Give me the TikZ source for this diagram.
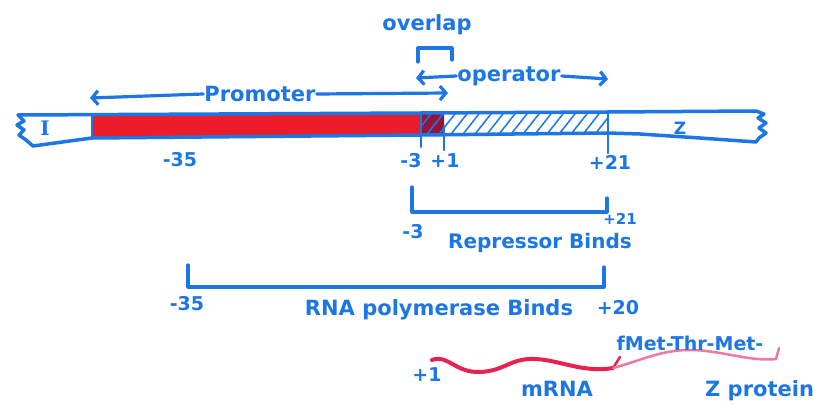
\documentclass[tikz,border=0pt]{standalone}
\usepackage{fontspec}
\setmainfont{DejaVu Sans}
\newfontfamily\genefont{DejaVu Serif}
\usetikzlibrary{arrows.meta}
\definecolor{ink}{RGB}{28,118,228}
\definecolor{marker}{RGB}{236,28,40}
\definecolor{overlapred}{RGB}{150,20,60}
\definecolor{mrnared}{RGB}{232,34,78}
\definecolor{protpink}{RGB}{242,120,160}
\begin{document}
\begin{tikzpicture}[x=1pt,y=-1pt,line cap=round,line join=round,
  lbl/.style={text=ink,font=\bfseries\fontsize{21}{24}\selectfont,inner sep=1pt},
  numlbl/.style={text=ink,font=\bfseries\fontsize{19}{22}\selectfont,inner sep=1pt},
  smalllbl/.style={text=ink,font=\bfseries\fontsize{15}{18}\selectfont,inner sep=1pt},
  pen/.style={draw=ink,line width=3.2pt},
  tickline/.style={draw=ink,line width=2.2pt},
  barb/.style={-{Straight Barb[length=6pt,width=14pt]}}]
\useasboundingbox (0,0) rectangle (827,406);
\fill[white] (0,0) rectangle (827,406);

% promoter region (red), overlap and operator (hatched)
\fill[marker] (92,114) -- (421,113) -- (421,135) -- (92,137) -- cycle;
\fill[overlapred] (421,113) -- (444,113) -- (444,134) -- (421,135) -- cycle;
\begin{scope}
  \clip (421,113) -- (608,112) -- (608,133) -- (421,135) -- cycle;
  \foreach \x in {400,412,...,620}
    \draw[ink,line width=1.5pt] (\x,138) -- (\x+22,110);
\end{scope}

% DNA outline with torn ends
\draw[pen,line width=3.5pt]
  (18,115) -- (421,113) -- (608,112) -- (756,111)
  -- (764,114) -- (758,118) -- (766,123) -- (759,128) -- (766,133)
  -- (759,138) -- (756,142) -- (700,138) -- (640,134) -- (608,133)
  -- (421,135) -- (92,138) -- (33,146)
  -- (26,140) -- (19,135) -- (24,130) -- (17,125) -- (24,121) -- cycle;
\draw[tickline] (92,114) -- (92,137);

% gene labels
\node[text=ink,font=\genefont\bfseries\fontsize{20}{22}\selectfont] (geneI) at (45,128) {I};
\node[smalllbl,font=\bfseries\fontsize{17}{18}\selectfont] (geneZ) at (680,128) {Z};

% position ticks and numbers
\draw[tickline] (421,115) -- (421,147);
\draw[tickline] (444,126) -- (444,150);
\draw[tickline] (608,113) -- (608,153);
\node[numlbl] (m35) at (180,160) {-35};
\node[numlbl] (m3) at (411,161) {-3};
\node[numlbl] (p1) at (445,161) {+1};
\node[numlbl] (p21) at (610,162) {+21};

% promoter arrow
\node[lbl] (promoter) at (260,94) {Promoter};
\coordinate (proL) at (90,98);
\coordinate (proR) at (448,93);
\draw[pen,barb] (promoter.west) -- (proL);
\draw[pen,barb] (promoter.east) -- (proR);

% operator arrow
\node[lbl] (operator) at (509,76) {operator};
\coordinate (opL) at (416,78);
\coordinate (opR) at (608,79);
\draw[pen,barb] (operator.west) -- (opL);
\draw[pen,barb] (operator.east) -- (opR);

% overlap bracket
\node[lbl] (overlap) at (427,25) {overlap};
\draw[pen] (418,62) -- (418,48) -- (452,48) -- (452,60);

% repressor binding span
\draw[pen] (412,187) -- (412,212) -- (607,212) -- (607,198);
\node[numlbl] (rm3) at (413,232) {-3};
\node[smalllbl] (rp21) at (620,219) {+21};
\node[lbl,font=\bfseries\fontsize{20}{22}\selectfont] (repressor) at (540,243) {Repressor Binds};

% RNA polymerase binding span
\draw[pen] (188,265) -- (188,287) -- (604,287) -- (604,267);
\node[numlbl] (pm35) at (187,304) {-35};
\node[lbl] (rnapol) at (439,310) {RNA polymerase Binds};
\node[numlbl] (pp20) at (618,308) {+20};

% transcript and protein
\node[numlbl] (mp1) at (427,375) {+1};
\draw[mrnared,line width=4pt]
  (432,360) .. controls (448,354) and (455,373) .. (480,372)
  .. controls (505,371) and (510,358) .. (535,359)
  .. controls (560,360) and (582,373) .. (613,368);
\draw[mrnared,line width=2.5pt] (613,368) -- (620,357);
\draw[protpink,line width=2.5pt]
  (613,368) .. controls (640,361) and (660,350) .. (690,350)
  .. controls (720,350) and (750,362) .. (776,359) -- (779,348);
\node[lbl,font=\bfseries\fontsize{19}{22}\selectfont] (peptide) at (690,343) {fMet-Thr-Met-};
\node[lbl] (mrna) at (557,389) {mRNA};
\node[lbl,anchor=west] (zprot) at (704,391) {Z protein};
\end{tikzpicture}
\end{document}
